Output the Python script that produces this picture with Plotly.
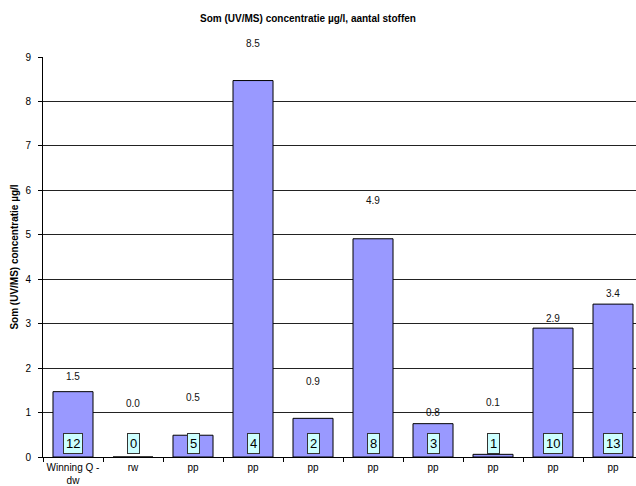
import plotly.graph_objects as go

# ---- data ----
categories = ["Winning Q -<br>dw", "rw", "pp", "pp", "pp", "pp", "pp", "pp", "pp", "pp"]
concentration = [1.47, 0.0, 0.49, 8.47, 0.87, 4.91, 0.75, 0.06, 2.9, 3.44]
value_labels = ["1.5", "0.0", "0.5", "8.5", "0.9", "4.9", "0.8", "0.1", "2.9", "3.4"]
substance_counts = [12, 0, 5, 4, 2, 8, 3, 1, 10, 13]
y_ticks = [0, 1, 2, 3, 4, 5, 6, 7, 8, 9]

# ---- style (label offsets above bar top, px) ----
label_shift = [15, 54, 38, 37, 37, 38, 11, 52, 10, 11]

FONT = "Liberation Sans, Arial, sans-serif"
idx = list(range(len(categories)))

fig = go.Figure()
fig.add_trace(go.Bar(
    x=idx, y=concentration,
    marker=dict(color="#9999FF", line=dict(color="#000000", width=1)),
    width=0.667,
    hoverinfo="skip",
))

annotations = []
for i, v, t, s in zip(idx, concentration, value_labels, label_shift):
    annotations.append(dict(
        x=i, y=v, xref="x", yref="y", text=t, showarrow=False,
        yanchor="middle", yshift=s, font=dict(family=FONT, size=10, color="#111"),
    ))
for i, c in zip(idx, substance_counts):
    annotations.append(dict(
        x=i, y=0, xref="x", yref="y", text=str(c), showarrow=False,
        yanchor="middle", yshift=14, bgcolor="#CCFFFF", bordercolor="#333333",
        borderwidth=1, borderpad=2, font=dict(family=FONT, size=13, color="#000"),
    ))

fig.update_layout(
    width=636, height=486,
    margin=dict(l=43, r=0, t=57, b=29),
    paper_bgcolor="white", plot_bgcolor="white",
    showlegend=False,
    font=dict(family=FONT, size=10, color="#000"),
    title=dict(text="<b>Som (UV/MS) concentratie µg/l, aantal stoffen</b>",
               x=308 / 636, xanchor="center", y=1 - 18 / 486, yanchor="middle",
               font=dict(family=FONT, size=10, color="#000")),
    annotations=annotations,
    xaxis=dict(
        type="category", tickmode="array", tickvals=idx, ticktext=categories,
        tickson="boundaries", ticks="outside", ticklen=4, tickcolor="#000",
        tickangle=0, automargin=False, ticklabelstandoff=1,
        range=[-0.5, 9.383], showgrid=False, showline=True, linecolor="#000",
        linewidth=1, tickfont=dict(family=FONT, size=10), zeroline=False,
    ),
    yaxis=dict(
        range=[0, 9], tickvals=y_ticks, ticks="outside", ticklen=4,
        tickcolor="#000", showline=True, linecolor="#000", linewidth=1,
        showgrid=True, gridcolor="#222", gridwidth=1, zeroline=False,
        automargin=False, ticklabelstandoff=5,
        tickfont=dict(family=FONT, size=10),
        title=dict(text="<b>Som (UV/MS) concentratie µg/l</b>", standoff=4,
                   font=dict(family=FONT, size=10)),
    ),
)

fig.write_html("out.html")
